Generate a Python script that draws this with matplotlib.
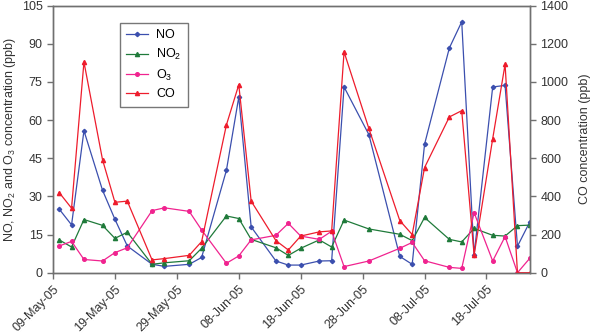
import numpy as np
import pandas as pd
import matplotlib
matplotlib.use("Agg")
import matplotlib.pyplot as plt
import matplotlib.dates as mdates

plt.rcParams['font.family'] = ['Liberation Sans', 'DejaVu Sans']
plt.rcParams['mathtext.default'] = 'regular'

# sampling dates
dates = ['2005-05-10', '2005-05-12', '2005-05-14', '2005-05-17', '2005-05-19',
         '2005-05-21', '2005-05-25', '2005-05-27', '2005-05-31', '2005-06-02',
         '2005-06-06', '2005-06-08', '2005-06-10', '2005-06-14', '2005-06-16',
         '2005-06-18', '2005-06-21', '2005-06-23', '2005-06-25', '2005-06-29',
         '2005-07-04', '2005-07-06', '2005-07-08', '2005-07-12', '2005-07-14',
         '2005-07-16', '2005-07-19', '2005-07-21', '2005-07-23', '2005-07-25']

# concentrations (ppb)
no = [25, 18.8, 55.8, 32.4, 21, 10.5, 3.3, 2.5, 3.3, 6,
      40.2, 69, 18, 4.6, 3.0, 3.0, 4.6, 4.7, 73, 54.3,
      6.4, 3.3, 50.5, 88.3, 98.6, 7.1, 73, 73.6, 10.4, 20]
no2 = [12.9, 10.1, 20.9, 18.6, 13.5, 15.9, 3.3, 3.9, 4.7, 9.6,
       22.3, 21.3, 13.1, 9.8, 6.8, 9.6, 12.9, 10.1, 20.7, 17.2,
       15.1, 12.6, 21.7, 13.1, 12.1, 17.4, 14.7, 14.4, 18.5, 18.7]
o3 = [10.5, 12.3, 5.2, 4.6, 7.9, 9.8, 24.4, 25.5, 24.1, 16.8,
      3.7, 6.6, 12.9, 14.7, 19.4, 14.4, 13.1, 16.3, 2.4, 4.6,
      9.6, 11.9, 4.7, 2.1, 1.7, 23.6, 4.6, 14.2, 0, 5.7]
co = [420, 338, 1104, 592, 369, 375, 67, 74, 91, 163,
      774, 985, 375, 168, 119, 192, 214, 219, 1157, 756,
      273, 200, 551, 816, 849, 93, 702, 1092, 0, 0]

x = pd.to_datetime(dates)

c_no = '#3b4fae'
c_no2 = '#1f7a3a'
c_o3 = '#f0238f'
c_co = '#ee1c2c'
spine_c = '#707070'
txt_c = '#333333'
fs = 9

fig = plt.figure(figsize=(5.94, 3.34), dpi=100)
ax1 = fig.add_axes([0.0892, 0.1835, 0.8028, 0.80])
ax2 = ax1.twinx()

l1, = ax1.plot(x, no, color=c_no, marker='D', ms=2.2, lw=0.9, label='NO')
l2, = ax1.plot(x, no2, color=c_no2, marker='^', ms=3, lw=0.9, label='NO$_2$')
l3, = ax1.plot(x, o3, color=c_o3, marker='o', ms=2.6, lw=0.9, label='O$_3$')
l4, = ax2.plot(x, co, color=c_co, marker='^', ms=3, lw=0.9, label='CO')

ax1.set_ylim(0, 105)
ax1.set_yticks(np.arange(0, 106, 15))
ax2.set_ylim(0, 1400)
ax2.set_yticks(np.arange(0, 1401, 200))
ax1.set_xlim(pd.Timestamp('2005-05-09'), pd.Timestamp('2005-07-25'))
ticks = pd.date_range('2005-05-09', '2005-07-25', freq='10D')
ax1.set_xticks(ticks)
ax1.xaxis.set_major_formatter(mdates.DateFormatter('%d-%b-%y'))
for lab in ax1.get_xticklabels():
    lab.set_rotation(45)
    lab.set_ha('right')
    lab.set_rotation_mode('anchor')

ax1.set_ylabel('NO, NO$_2$ and O$_3$ concentration (ppb)', fontsize=fs, color=txt_c, labelpad=3)
ax2.set_ylabel('CO concentration (ppb)', fontsize=fs, color=txt_c, labelpad=8)

for ax in (ax1, ax2):
    for s in ax.spines.values():
        s.set_color(spine_c)
        s.set_linewidth(1)
    ax.tick_params(colors=spine_c, labelcolor=txt_c, labelsize=fs, length=4, width=1)

leg = ax2.legend(handles=[l1, l2, l3, l4], loc='upper left',
                 bbox_to_anchor=(0.14, 0.934), borderaxespad=0, fontsize=fs,
                 frameon=True, fancybox=False, edgecolor='#555555',
                 handlelength=1.8, borderpad=0.5, labelspacing=0.45,
                 handletextpad=0.6)
leg.get_frame().set_linewidth(1)

fig.savefig('out.png', dpi=100)
